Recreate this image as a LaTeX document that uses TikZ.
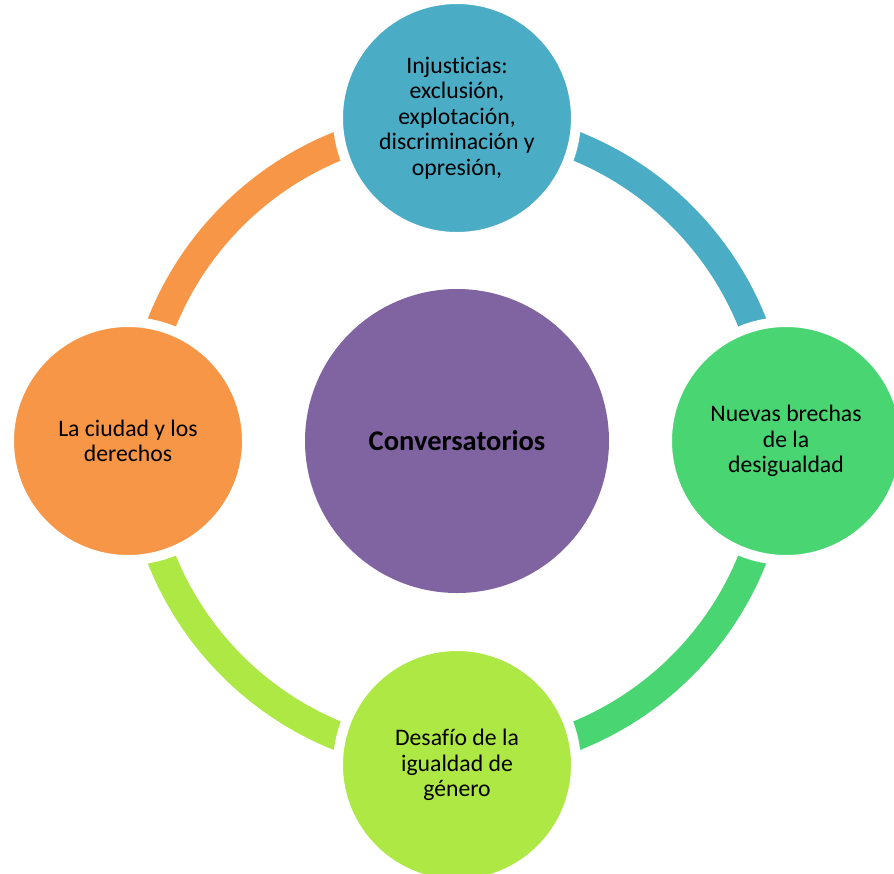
\documentclass[tikz,border=0pt]{standalone}
\usepackage{fontspec}
\setmainfont{Carlito}[Ligatures=NoCommon]
\definecolor{cblue}{HTML}{4BACC6}
\definecolor{cgreen}{HTML}{4AD573}
\definecolor{clime}{HTML}{ADE845}
\definecolor{corange}{HTML}{F79646}
\definecolor{cpurple}{HTML}{8064A2}
\begin{document}
\begin{tikzpicture}[x=1pt,y=-1pt,
  sat/.style={circle, draw=white, line width=10pt, minimum size=238pt, inner sep=0pt, align=center,
    font=\fontsize{23.7}{25.5}\selectfont, text=black},
  hub/.style={circle, minimum size=304pt, inner sep=0pt, align=center, fill=cpurple,
    font=\fontsize{28.5}{31}\selectfont\bfseries, text=black},
  band/.style={line width=29pt, line cap=butt}]
\useasboundingbox (0,0) rectangle (894,873);
\coordinate (c) at (457,441);
% ring bands
\draw[band, corange] (c) ++(180:318) arc[start angle=180, end angle=270, radius=318];
\draw[band, cblue] (c) ++(270:318) arc[start angle=270, end angle=360, radius=318];
\draw[band, cgreen] (c) ++(0:318) arc[start angle=0, end angle=90, radius=318];
\draw[band, clime] (c) ++(90:318) arc[start angle=90, end angle=180, radius=318];
% center
\node[hub] (hub) at (457,441) {Conversatorios};
% satellites
\node[sat, fill=cblue] (top) at (457,118) {Injusticias:\\exclusión,\\explotación,\\discriminación y\\opresión,};
\node[sat, fill=cgreen] (right) at (786,441) {Nuevas brechas\\de la\\desigualdad};
\node[sat, fill=clime] (bottom) at (457,765) {Desafío de la\\igualdad de\\género};
\node[sat, fill=corange] (left) at (128,441) {La ciudad y los\\derechos};
\end{tikzpicture}
\end{document}
